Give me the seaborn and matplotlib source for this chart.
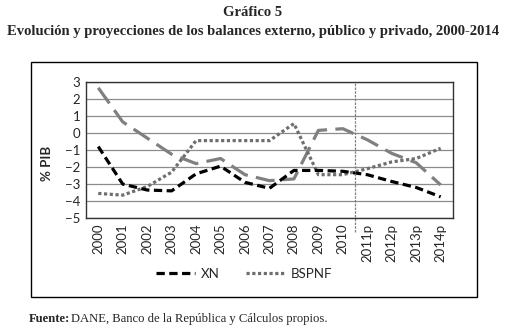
import pandas as pd
import matplotlib
matplotlib.use("Agg")
import matplotlib.pyplot as plt
import seaborn as sns
from matplotlib.patches import Rectangle

# data (% PIB)
years = ["2000", "2001", "2002", "2003", "2004", "2005", "2006", "2007",
         "2008", "2009", "2010", "2011p", "2012p", "2013p", "2014p"]
xn = [-0.8, -3.0, -3.35, -3.4, -2.4, -1.95, -2.9, -3.25,
      -2.2, -2.2, -2.25, -2.45, -2.85, -3.2, -3.75]
bspnf = [-3.55, -3.65, -3.15, -2.3, -0.45, -0.45, -0.45, -0.45,
         0.55, -2.45, -2.45, -2.1, -1.7, -1.5, -0.9]
bspriv = [2.65, 0.65, -0.3, -1.25, -1.8, -1.5, -2.45, -2.8,
          -2.7, 0.15, 0.25, -0.4, -1.2, -1.75, -3.05]
y_ticks = list(range(-5, 4))

sns.set_style("white")
plt.rcParams["font.family"] = ["Lato", "DejaVu Sans"]

fig = plt.figure(figsize=(5.06, 3.30), dpi=100)
ax = fig.add_axes([0.170, 0.339, 0.725, 0.413])

df = pd.DataFrame({"year": years, "XN": xn, "BSPNF": bspnf, "BSPRIV": bspriv})

sns.lineplot(data=df, x="year", y="BSPRIV", ax=ax, color="#808080",
             linewidth=2.3, linestyle=(0, (6, 2.6)), label="_BSPRIV", sort=False)
sns.lineplot(data=df, x="year", y="BSPNF", ax=ax, color="#6e6e6e",
             linewidth=2.3, linestyle=(0, (1, 0.8)), label="BSPNF", sort=False)
sns.lineplot(data=df, x="year", y="XN", ax=ax, color="black",
             linewidth=2.3, linestyle=(0, (2.6, 1.4)), label="XN", sort=False)

ax.set_xlim(-0.5, len(years) - 0.5)
ax.set_ylim(-5, 3)
ax.set_yticks(y_ticks)
ax.set_xticks(range(len(years)))
ax.set_xticklabels(years, rotation=90, fontsize=9.5)
ax.tick_params(axis="y", labelsize=9.5, length=0, pad=4)
ax.tick_params(axis="x", length=0, pad=4)
ax.yaxis.grid(True, color="#8c8c8c", linewidth=0.9)
ax.xaxis.grid(False)
for s in ax.spines.values():
    s.set_color("#333333")
    s.set_linewidth(1.0)

ax.set_xlabel("")
ax.set_ylabel("% PIB", fontsize=9.5, fontweight="bold")
ax.yaxis.set_label_coords(-0.09, 0.40)

# projection divider
ax.axvline(10.5, ymin=-0.1, ymax=1, color="#808080", linewidth=0.9,
           linestyle=(0, (2, 1)), clip_on=False)

leg = ax.legend(handles=[ax.lines[2], ax.lines[1]], labels=["XN", "BSPNF"],
                loc="center", bbox_to_anchor=(0.43, -0.41), ncol=2, frameon=False,
                fontsize=9.5, handlelength=3.0, handletextpad=0.4, columnspacing=2.0)

# outer frame
fig.patches.append(Rectangle((31 / 506, 1 - 297 / 330), 446 / 506, 235 / 330,
                             transform=fig.transFigure, fill=False,
                             edgecolor="black", linewidth=1.0))

serif = ["Liberation Serif", "DejaVu Serif"]
fig.text(0.5, 1 - 13 / 330, "Gráfico 5", ha="center", va="center",
         fontsize=10.5, fontweight="bold", family=serif)
fig.text(0.5, 1 - 31 / 330,
         "Evolución y proyecciones de los balances externo, público y privado, 2000-2014",
         ha="center", va="center", fontsize=10.5, fontweight="bold", family=serif)
fig.text(29 / 506, 1 - 319 / 330, "Fuente:", ha="left", va="center",
         fontsize=9.1, fontweight="bold", family=serif)
fig.text(71 / 506, 1 - 319 / 330, "DANE, Banco de la República y Cálculos propios.",
         ha="left", va="center", fontsize=9.1, family=serif)

fig.savefig("out.png", dpi=100)
